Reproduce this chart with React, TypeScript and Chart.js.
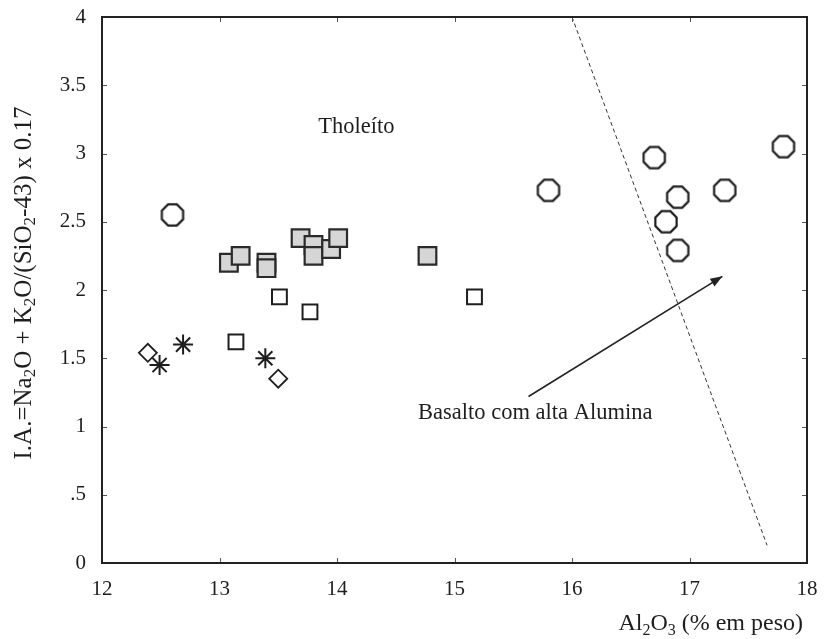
import React, { useEffect, useRef } from 'react';
import { Chart, registerables } from 'chart.js';

Chart.register(...registerables);

// Axis ticks
const xTickValues = [12, 13, 14, 15, 16, 17, 18];
const yTickLabels = ['0', '.5', '1', '1.5', '2', '2.5', '3', '3.5', '4'];

// Samples (Al2O3 wt% vs alkali index)
const octagonX = [12.6, 15.8, 16.7, 16.9, 16.8, 16.9, 17.3, 17.8];
const octagonY = [2.55, 2.73, 2.97, 2.68, 2.5, 2.29, 2.73, 3.05];

const greySquareX = [13.08, 13.18, 13.4, 13.4, 13.69, 13.8, 13.8, 13.95, 14.01, 14.77];
const greySquareY = [2.2, 2.25, 2.2, 2.16, 2.38, 2.33, 2.25, 2.3, 2.38, 2.25];

const openSquareX = [13.51, 13.77, 13.14, 15.17];
const openSquareY = [1.95, 1.84, 1.62, 1.95];

const diamondX = [12.39, 13.5];
const diamondY = [1.54, 1.35];

const starX = [12.49, 12.69, 13.39];
const starY = [1.45, 1.6, 1.5];

// Tholeiite / high-alumina basalt boundary
const boundaryX = [16.0, 17.66];
const boundaryY = [4.0, 0.13];

// Arrow pointing into the high-alumina field
const arrowX = [15.63, 17.28];
const arrowY = [1.22, 2.1];

// Field labels
const tholeiiteLabel = { text: 'Tholeíto', x: 13.84, y: 3.19 };
const highAlLabel = { text: 'Basalto com alta Alumina', x: 14.69, y: 1.1 };

const SERIF = '"Liberation Serif", "Times New Roman", serif';
const INK = '#1e1e1e';

const toPoints = (xs: number[], ys: number[]) => xs.map((x, i) => ({ x, y: ys[i] }));

function makeOctagon(r: number, lw: number): HTMLCanvasElement {
  const size = Math.ceil(2 * r + lw + 2);
  const c = document.createElement('canvas');
  c.width = size;
  c.height = size;
  const ctx = c.getContext('2d')!;
  const cx = size / 2;
  const cy = size / 2;
  ctx.beginPath();
  for (let i = 0; i < 8; i++) {
    const a = Math.PI / 8 + (i * Math.PI) / 4;
    const px = cx + r * Math.cos(a);
    const py = cy + r * Math.sin(a);
    if (i === 0) ctx.moveTo(px, py);
    else ctx.lineTo(px, py);
  }
  ctx.closePath();
  ctx.fillStyle = '#ffffff';
  ctx.fill();
  ctx.lineWidth = lw;
  ctx.strokeStyle = INK;
  ctx.stroke();
  return c;
}

type Seg = { t: string; sub?: boolean };

function richWidth(ctx: CanvasRenderingContext2D, segs: Seg[], size: number, subSize: number) {
  let w = 0;
  for (const s of segs) {
    ctx.font = `${s.sub ? subSize : size}px ${SERIF}`;
    w += ctx.measureText(s.t).width;
  }
  return w;
}

function drawRich(
  ctx: CanvasRenderingContext2D,
  segs: Seg[],
  x: number,
  y: number,
  size: number,
  subSize: number,
  subShift: number
) {
  let cx = x;
  ctx.textBaseline = 'middle';
  ctx.textAlign = 'left';
  for (const s of segs) {
    ctx.font = `${s.sub ? subSize : size}px ${SERIF}`;
    ctx.fillText(s.t, cx, s.sub ? y + subShift : y);
    cx += ctx.measureText(s.t).width;
  }
}

const yTitle: Seg[] = [
  { t: 'I.A.=Na' },
  { t: '2', sub: true },
  { t: 'O + K' },
  { t: '2', sub: true },
  { t: 'O/(SiO' },
  { t: '2', sub: true },
  { t: '-43) x 0.17' },
];

const xTitle: Seg[] = [
  { t: 'Al' },
  { t: '2', sub: true },
  { t: 'O' },
  { t: '3', sub: true },
  { t: ' (% em peso)' },
];

const decorPlugin = {
  id: 'decor',
  afterDraw(chart: any) {
    const { ctx, chartArea } = chart;
    const xs = chart.scales.x;
    const ys = chart.scales.y;
    const { left, right, top, bottom } = chartArea;
    ctx.save();

    // inward tick marks on all four sides
    ctx.strokeStyle = '#555';
    ctx.lineWidth = 1;
    ctx.beginPath();
    for (const v of xTickValues) {
      const px = Math.round(xs.getPixelForValue(v)) + 0.5;
      ctx.moveTo(px, bottom);
      ctx.lineTo(px, bottom - 5);
      ctx.moveTo(px, top);
      ctx.lineTo(px, top + 5);
    }
    for (let i = 0; i < yTickLabels.length; i++) {
      const py = Math.round(ys.getPixelForValue(i * 0.5)) + 0.5;
      ctx.moveTo(left, py);
      ctx.lineTo(left + 5, py);
      ctx.moveTo(right, py);
      ctx.lineTo(right - 5, py);
    }
    ctx.stroke();

    // plot frame
    ctx.strokeStyle = '#222';
    ctx.lineWidth = 2;
    ctx.strokeRect(left, top, right - left, bottom - top);

    // arrow head
    const x0 = xs.getPixelForValue(arrowX[0]);
    const y0 = ys.getPixelForValue(arrowY[0]);
    const x1 = xs.getPixelForValue(arrowX[1]);
    const y1 = ys.getPixelForValue(arrowY[1]);
    const ang = Math.atan2(y1 - y0, x1 - x0);
    const len = 12;
    const half = 4.5;
    ctx.fillStyle = '#222';
    ctx.beginPath();
    ctx.moveTo(x1, y1);
    ctx.lineTo(
      x1 - len * Math.cos(ang) + half * Math.sin(ang),
      y1 - len * Math.sin(ang) - half * Math.cos(ang)
    );
    ctx.lineTo(
      x1 - len * Math.cos(ang) - half * Math.sin(ang),
      y1 - len * Math.sin(ang) + half * Math.cos(ang)
    );
    ctx.closePath();
    ctx.fill();

    // field labels
    ctx.fillStyle = INK;
    ctx.font = `22.5px ${SERIF}`;
    ctx.textAlign = 'left';
    ctx.textBaseline = 'middle';
    ctx.fillText(tholeiiteLabel.text, xs.getPixelForValue(tholeiiteLabel.x), ys.getPixelForValue(tholeiiteLabel.y));
    ctx.fillText(highAlLabel.text, xs.getPixelForValue(highAlLabel.x), ys.getPixelForValue(highAlLabel.y));

    // axis titles with subscripts
    const wx = richWidth(ctx, xTitle, 24, 16);
    drawRich(ctx, xTitle, 803 - wx, 624, 24, 16, 7);

    const wy = richWidth(ctx, yTitle, 25, 17);
    ctx.save();
    ctx.translate(24, 283);
    ctx.rotate(-Math.PI / 2);
    drawRich(ctx, yTitle, -wy / 2, 0, 25, 17, 7);
    ctx.restore();

    ctx.restore();
  },
};

export default function App() {
  const canvasRef = useRef<HTMLCanvasElement | null>(null);

  useEffect(() => {
    const canvas = canvasRef.current;
    if (!canvas) return;
    const octagon = makeOctagon(11.5, 2.2);

    const chart = new Chart(canvas, {
      type: 'scatter',
      data: {
        datasets: [
          {
            label: 'limite',
            data: toPoints(boundaryX, boundaryY),
            showLine: true,
            borderColor: '#333',
            borderWidth: 1,
            borderDash: [4, 3],
            pointRadius: 0,
            fill: false,
          },
          {
            label: 'seta',
            data: toPoints(arrowX, arrowY),
            showLine: true,
            borderColor: '#222',
            borderWidth: 1.6,
            pointRadius: 0,
            fill: false,
          },
          {
            label: 'octógonos',
            data: toPoints(octagonX, octagonY),
            pointStyle: octagon,
            pointRadius: 12,
          },
          {
            label: 'quadrados cinza',
            data: toPoints(greySquareX, greySquareY),
            pointStyle: 'rect',
            pointRadius: 12.5,
            backgroundColor: '#d6d6d6',
            borderColor: '#2a2a2a',
            borderWidth: 2.2,
          },
          {
            label: 'quadrados',
            data: toPoints(openSquareX, openSquareY),
            pointStyle: 'rect',
            pointRadius: 10.5,
            backgroundColor: '#ffffff',
            borderColor: INK,
            borderWidth: 2,
          },
          {
            label: 'losangos',
            data: toPoints(diamondX, diamondY),
            pointStyle: 'rectRot',
            pointRadius: 9,
            backgroundColor: '#ffffff',
            borderColor: INK,
            borderWidth: 1.8,
          },
          {
            label: 'asteriscos',
            data: toPoints(starX, starY),
            pointStyle: 'star',
            pointRadius: 10,
            backgroundColor: INK,
            borderColor: INK,
            borderWidth: 2,
          },
        ],
      },
      options: {
        animation: false,
        responsive: false,
        maintainAspectRatio: false,
        layout: { padding: { left: 0, right: 18, top: 17, bottom: 0 } },
        plugins: {
          legend: { display: false },
          tooltip: { enabled: false },
        },
        scales: {
          x: {
            type: 'linear',
            min: 12,
            max: 18,
            afterBuildTicks: (s: any) => {
              s.ticks = xTickValues.map((v) => ({ value: v }));
            },
            afterFit: (s: any) => {
              s.height = 76;
              s.paddingLeft = 0;
              s.paddingRight = 0;
            },
            ticks: {
              font: { family: SERIF, size: 21 },
              color: INK,
              padding: 14,
            },
            grid: { display: false, drawTicks: false },
            border: { display: false },
          },
          y: {
            type: 'linear',
            min: 0,
            max: 4,
            afterBuildTicks: (s: any) => {
              s.ticks = yTickLabels.map((_, i) => ({ value: i * 0.5 }));
            },
            afterFit: (s: any) => {
              s.width = 102;
              s.paddingTop = 0;
              s.paddingBottom = 0;
            },
            ticks: {
              font: { family: SERIF, size: 21 },
              color: INK,
              padding: 16,
              callback: (v: any) => yTickLabels[Math.round(Number(v) * 2)],
            },
            grid: { display: false, drawTicks: false },
            border: { display: false },
          },
        },
      },
      plugins: [decorPlugin],
    });

    return () => chart.destroy();
  }, []);

  return (
    <div style={{ position: 'absolute', left: 0, top: 0, width: 825, height: 639, background: '#fff' }}>
      <canvas ref={canvasRef} width={825} height={639} />
    </div>
  );
}
